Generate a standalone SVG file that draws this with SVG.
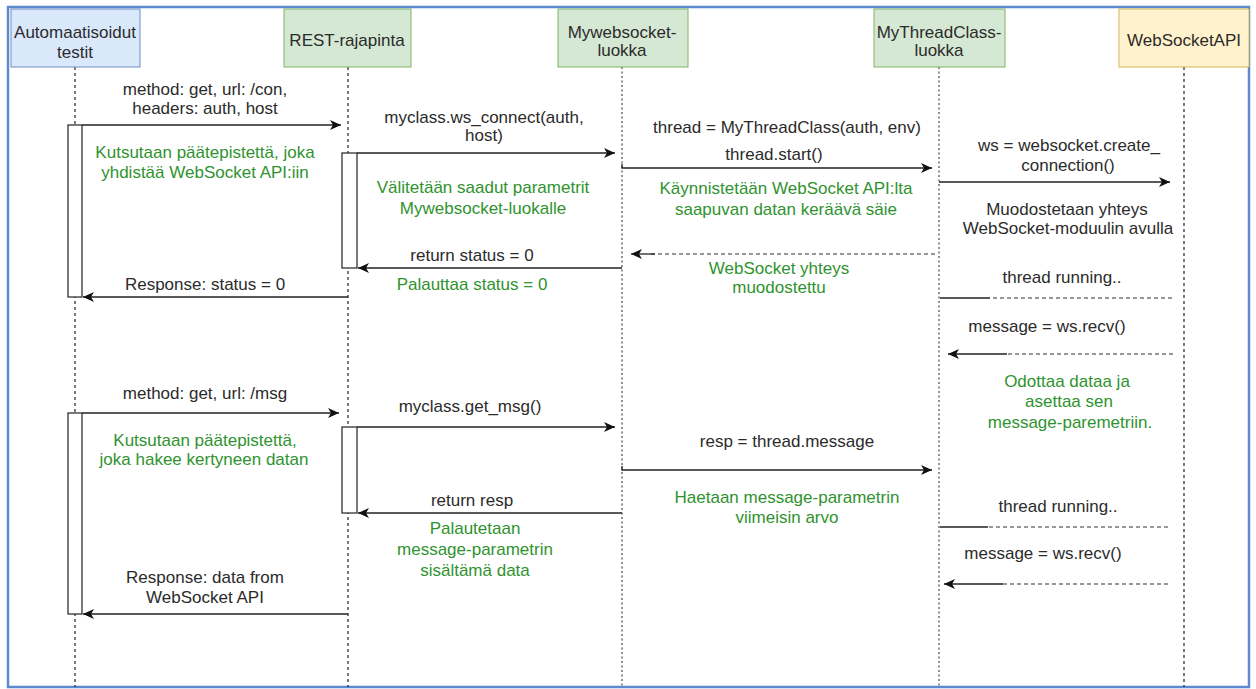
<svg xmlns="http://www.w3.org/2000/svg" width="1256" height="689" viewBox="0 0 1256 689">
<style>
text{font-family:"Liberation Sans",Arial,sans-serif;font-size:17px;fill:#2b2b2b;text-anchor:middle}
.g{fill:#2f932f}
.ll{stroke:#222;stroke-width:1.2;stroke-dasharray:3,3;fill:none}
.ld{stroke:#777;stroke-width:1.6;stroke-dasharray:2,2.5;fill:none}
.act{fill:#fff;stroke:#222;stroke-width:1.2}
.m{stroke:#222;stroke-width:1.3;fill:none}
.md{stroke:#333;stroke-width:1.2;fill:none;stroke-dasharray:4,3}
</style>
<defs>
<marker id="ah" markerUnits="userSpaceOnUse" markerWidth="12" markerHeight="10" refX="11" refY="5" orient="auto">
<path d="M0,0 L11,5 L0,10 L3,5 z" fill="#111"/>
</marker>
</defs>
<rect x="0" y="0" width="1256" height="689" fill="#fff"/>
<rect x="8" y="7" width="1241" height="680" fill="none" stroke="#5b8ad0" stroke-width="2.5"/>

<g id="lifelines">
<line class="ll" x1="75" y1="67" x2="75" y2="687"/>
<line class="ll" x1="348" y1="67" x2="348" y2="687"/>
<line class="ld" x1="622" y1="67" x2="622" y2="687"/>
<line class="ld" x1="939" y1="67" x2="939" y2="687"/>
<line class="ll" x1="1184" y1="67" x2="1184" y2="687"/>
</g>

<g id="node-tests">
<rect x="11" y="9" width="129" height="58" fill="#dae8fc" stroke="#6c8ebf"/>
<text x="75" y="38">Automaatisoidut</text>
<text x="75" y="58">testit</text>
</g>
<g id="node-rest">
<rect x="284" y="9" width="127" height="58" fill="#d5e8d4" stroke="#82b366"/>
<text x="347" y="46">REST-rajapinta</text>
</g>
<g id="node-mywebsocket">
<rect x="558" y="9" width="130" height="58" fill="#d5e8d4" stroke="#82b366"/>
<text x="622" y="38">Mywebsocket-</text>
<text x="622" y="56">luokka</text>
</g>
<g id="node-mythread">
<rect x="874" y="9" width="131" height="58" fill="#d5e8d4" stroke="#82b366"/>
<text x="939" y="38">MyThreadClass-</text>
<text x="939" y="56">luokka</text>
</g>
<g id="node-wsapi">
<rect x="1119" y="9" width="130" height="58" fill="#fff2cc" stroke="#d6b656"/>
<text x="1184" y="46">WebSocketAPI</text>
</g>

<g id="activations">
<rect class="act" x="68" y="125" width="14" height="172"/>
<rect class="act" x="342" y="153" width="15" height="115"/>
<rect class="act" x="68" y="413" width="14" height="201"/>
<rect class="act" x="342" y="427" width="15" height="86"/>
</g>

<g id="connectors">
<line class="m" x1="82" y1="125" x2="341" y2="125" marker-end="url(#ah)"/>
<line class="m" x1="357" y1="153" x2="615" y2="153" marker-end="url(#ah)"/>
<path class="m" d="M622,164 L622,168 L932,168" marker-end="url(#ah)"/>
<line class="m" x1="939" y1="182" x2="1170" y2="182" marker-end="url(#ah)"/>
<line class="md" x1="935" y1="254" x2="650" y2="254"/>
<line class="m" x1="655" y1="254" x2="631" y2="254" marker-end="url(#ah)"/>
<line class="m" x1="622" y1="268" x2="358" y2="268" marker-end="url(#ah)"/>
<line class="m" x1="348" y1="297" x2="83" y2="297" marker-end="url(#ah)"/>
<line class="md" x1="1172" y1="298" x2="990" y2="298"/>
<line class="m" x1="990" y1="298" x2="940" y2="298"/>
<line class="md" x1="1173" y1="354" x2="1005" y2="354"/>
<line class="m" x1="1007" y1="354" x2="948" y2="354" marker-end="url(#ah)"/>
<line class="m" x1="82" y1="413" x2="339" y2="413" marker-end="url(#ah)"/>
<line class="m" x1="357" y1="427" x2="615" y2="427" marker-end="url(#ah)"/>
<path class="m" d="M622,466 L622,470 L932,470" marker-end="url(#ah)"/>
<line class="m" x1="622" y1="513" x2="358" y2="513" marker-end="url(#ah)"/>
<line class="m" x1="348" y1="614" x2="83" y2="614" marker-end="url(#ah)"/>
<line class="md" x1="1168" y1="527" x2="988" y2="527"/>
<line class="m" x1="988" y1="527" x2="940" y2="527"/>
<line class="md" x1="1168" y1="584" x2="1003" y2="584"/>
<line class="m" x1="1003" y1="584" x2="944" y2="584" marker-end="url(#ah)"/>
</g>

<g id="labels">
<text x="205" y="95">method: get, url: /con,</text>
<text x="205" y="114">headers: auth, host</text>
<text class="g" x="205" y="158">Kutsutaan päätepistettä, joka</text>
<text class="g" x="205" y="178">yhdistää WebSocket API:iin</text>
<text x="484" y="123">myclass.ws_connect(auth,</text>
<text x="484" y="141">host)</text>
<text class="g" x="483" y="193">Välitetään saadut parametrit</text>
<text class="g" x="483" y="214">Mywebsocket-luokalle</text>
<text x="787" y="133">thread = MyThreadClass(auth, env)</text>
<text x="774" y="160">thread.start()</text>
<text class="g" x="786" y="194">Käynnistetään WebSocket API:lta</text>
<text class="g" x="786" y="215">saapuvan datan keräävä säie</text>
<text x="1069" y="151">ws = websocket.create_</text>
<text x="1068" y="171">connection()</text>
<text x="1067" y="215">Muodostetaan yhteys</text>
<text x="1068" y="234">WebSocket-moduulin avulla</text>
<text x="472" y="261">return status = 0</text>
<text class="g" x="472" y="290">Palauttaa status = 0</text>
<text class="g" x="779" y="274">WebSocket yhteys</text>
<text class="g" x="779" y="293">muodostettu</text>
<text x="205" y="290">Response: status = 0</text>
<text x="1062" y="283">thread running..</text>
<text x="1047" y="332">message = ws.recv()</text>
<text class="g" x="1067" y="387">Odottaa dataa ja</text>
<text class="g" x="1069" y="407">asettaa sen</text>
<text class="g" x="1070" y="428">message-paremetriin.</text>
<text x="205" y="399">method: get, url: /msg</text>
<text class="g" x="205" y="446">Kutsutaan päätepistettä,</text>
<text class="g" x="204" y="465">joka hakee kertyneen datan</text>
<text x="470" y="412">myclass.get_msg()</text>
<text x="787" y="447">resp = thread.message</text>
<text class="g" x="787" y="503">Haetaan message-parametrin</text>
<text class="g" x="787" y="523">viimeisin arvo</text>
<text x="472" y="506">return resp</text>
<text class="g" x="475" y="534">Palautetaan</text>
<text class="g" x="475" y="555">message-parametrin</text>
<text class="g" x="475" y="576">sisältämä data</text>
<text x="205" y="583">Response: data from</text>
<text x="205" y="603">WebSocket API</text>
<text x="1058" y="512">thread running..</text>
<text x="1043" y="559">message = ws.recv()</text>
</g>
</svg>
